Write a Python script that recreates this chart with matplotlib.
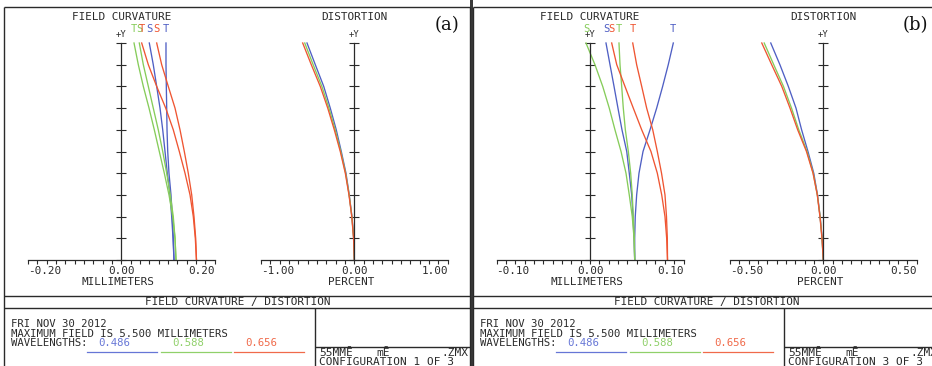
import matplotlib
matplotlib.use("Agg")
import matplotlib.pyplot as plt
import numpy as np

W, H, DPI = 932, 366, 100

# ---------------- data ----------------
field = [1.0, 0.9, 0.8, 0.7, 0.6, 0.5, 0.4, 0.3, 0.2, 0.1, 0.0]

# Panel (a) field curvature, millimeters
a_fc_blue_S = [0.0599, 0.0684, 0.0757, 0.0828, 0.0886, 0.0935, 0.0984, 0.1042, 0.1078, 0.1106, 0.1127]
a_fc_blue_T = [0.0956, 0.0956, 0.0963, 0.0971, 0.0978, 0.0993, 0.1020, 0.1063, 0.1091, 0.1112, 0.1127]
a_fc_green_S = [0.0385, 0.0471, 0.0578, 0.0684, 0.0791, 0.0886, 0.0971, 0.1048, 0.1112, 0.1149, 0.1170]
a_fc_green_T = [0.0272, 0.0364, 0.0471, 0.0593, 0.0706, 0.0813, 0.0920, 0.1020, 0.1099, 0.1149, 0.1170]
a_fc_red_S = [0.0757, 0.0864, 0.1005, 0.1149, 0.1256, 0.1348, 0.1433, 0.1506, 0.1555, 0.1591, 0.1608]
a_fc_red_T = [0.0436, 0.0578, 0.0757, 0.0950, 0.1112, 0.1241, 0.1363, 0.1470, 0.1540, 0.1583, 0.1608]

# Panel (a) distortion, percent
a_dist_blue = [-0.506, -0.417, -0.327, -0.257, -0.193, -0.139, -0.089, -0.054, -0.025, -0.006, 0.0]
a_dist_green = [-0.530, -0.440, -0.347, -0.271, -0.204, -0.145, -0.093, -0.055, -0.026, -0.007, 0.0]
a_dist_red = [-0.552, -0.460, -0.364, -0.284, -0.214, -0.150, -0.096, -0.057, -0.027, -0.008, 0.0]

# Panel (b) field curvature, millimeters
b_fc_blue_S = [0.0171, 0.0214, 0.0257, 0.0299, 0.0342, 0.0393, 0.0420, 0.0446, 0.0460, 0.0471, 0.0478]
b_fc_blue_T = [0.0891, 0.0837, 0.0777, 0.0713, 0.0642, 0.0567, 0.0524, 0.0499, 0.0484, 0.0478, 0.0478]
b_fc_green_S = [-0.0043, 0.0053, 0.0136, 0.0206, 0.0267, 0.0332, 0.0385, 0.0420, 0.0452, 0.0471, 0.0478]
b_fc_green_T = [0.0310, 0.0321, 0.0339, 0.0356, 0.0378, 0.0410, 0.0435, 0.0452, 0.0463, 0.0474, 0.0478]
b_fc_red_S = [0.0232, 0.0286, 0.0374, 0.0463, 0.0553, 0.0652, 0.0720, 0.0767, 0.0802, 0.0820, 0.0829]
b_fc_red_T = [0.0457, 0.0499, 0.0553, 0.0606, 0.0671, 0.0720, 0.0765, 0.0802, 0.0818, 0.0827, 0.0829]

# Panel (b) distortion, percent
b_dist_blue = [-0.281, -0.232, -0.187, -0.146, -0.116, -0.082, -0.051, -0.031, -0.017, -0.006, 0.0]
b_dist_green = [-0.316, -0.265, -0.213, -0.170, -0.131, -0.087, -0.054, -0.032, -0.017, -0.007, 0.0]
b_dist_red = [-0.329, -0.276, -0.222, -0.178, -0.137, -0.090, -0.055, -0.032, -0.018, -0.007, 0.0]

wavelengths = ["0.486", "0.588", "0.656"]
fc_scale = {"a": 0.20, "b": 0.10}
dist_scale = {"a": 1.00, "b": 0.50}
fc_ticklabels = {"a": ["-0.20", "0.00", "0.20"], "b": ["-0.10", "0.00", "0.10"]}
dist_ticklabels = {"a": ["-1.00", "0.00", "1.00"], "b": ["-0.50", "0.00", "0.50"]}
config_text = {"a": "CONFIGURATION 1 OF 3", "b": "CONFIGURATION 3 OF 3"}

# ---------------- style ----------------
BLUE, GREEN, RED = "#4f5fc4", "#86cc5a", "#ef5532"
TBLUE, TGREEN, TRED = "#6676d6", "#90d06a", "#f06a4a"
INK = "#2a2a2a"
plt.rcParams["font.family"] = ["DejaVu Sans Mono", "DejaVu Sans"]
FS = 7.9

fig = plt.figure(figsize=(W / DPI, H / DPI), dpi=DPI, facecolor="white")
cv = fig.add_axes([0, 0, 1, 1])
cv.set_xlim(0, W)
cv.set_ylim(H, 0)
cv.axis("off")

def txt(x, y, s, ha="center", size=FS, color=INK, **kw):
    cv.text(x, y, s, ha=ha, va="center", fontsize=size, color=color, **kw)

def hline(y, x0, x1, lw=1.0):
    cv.plot([x0, x1], [y, y], color=INK, lw=lw, solid_capstyle="butt")

def vline(x, y0, y1, lw=1.0):
    cv.plot([x, x], [y0, y1], color=INK, lw=lw, solid_capstyle="butt")

HALF = 93.5
Y_TOP, Y_BOT = 43.0, 260.0

def make_axes(cx, xmax):
    ax = fig.add_axes([(cx - HALF) / W, 1 - Y_BOT / H, 2 * HALF / W, (Y_BOT - Y_TOP) / H])
    ax.set_xlim(-xmax, xmax)
    ax.set_ylim(0, 1)
    ax.patch.set_alpha(0)
    ax.spines["top"].set_visible(False)
    ax.spines["right"].set_visible(False)
    ax.spines["left"].set_position(("data", 0))
    for s in ("left", "bottom"):
        ax.spines[s].set_color(INK)
        ax.spines[s].set_linewidth(0.9)
    ax.set_xticks(np.linspace(-xmax, xmax, 21))
    ax.set_xticklabels([])
    ax.set_yticks(np.linspace(0, 1, 11))
    ax.set_yticklabels([])
    ax.tick_params(axis="x", direction="out", length=3.0, width=0.8, color=INK)
    ax.tick_params(axis="y", direction="inout", length=7.5, width=0.8, color=INK)
    return ax, cx

def axis_texts(cx, labels, name, title):
    txt(cx - HALF, 270.7, labels[0], ha="left")
    txt(cx, 270.7, labels[1])
    txt(cx + HALF, 270.7, labels[2], ha="right")
    txt(cx - 3, 281.7, name)
    txt(cx, 16.5, title)
    txt(cx, 34.8, "+Y", size=6.4)

def panel(off, key, fc, dist):
    # frames
    x_left = 4.3 + off
    x_right = 469.5 + off
    hline(7.3, x_left, x_right)
    vline(x_left, 7.3, H + 2)
    vline(x_right, 7.3, H + 2)
    hline(296.3, x_left, x_right)
    hline(308.3, x_left, x_right)
    vline(315 + off, 308.3, H + 2)
    hline(347.0, 315 + off, x_right)
    txt(238 + off, 302.5, "FIELD CURVATURE / DISTORTION")
    txt(11 + off, 324.3, "FRI NOV 30 2012", ha="left", size=7.7)
    txt(11 + off, 333.6, "MAXIMUM FIELD IS 5.500 MILLIMETERS", ha="left", size=7.7)
    txt(11 + off, 342.9, "WAVELENGTHS:", ha="left", size=7.7)
    for i, (w, tc) in enumerate(zip(wavelengths, [TBLUE, TGREEN, TRED])):
        txt(98.3 + off + i * 73.5, 342.9, w, ha="left", color=tc, size=7.7)
        cv.plot([87 + off + i * 73.5, 157 + off + i * 73.5], [351.7, 351.7], color=tc, lw=0.9)
    CS = 8.0
    txt(319.3 + off, 353.0, "55MMĒ", ha="left", size=CS)
    txt(376.5 + off, 353.0, "mĒ", ha="left", size=CS)
    txt(468.3 + off, 353.0, ".ZMX", ha="right", size=CS)
    txt(319.3 + off, 362.0, config_text[key], ha="left", size=CS)
    cv.text(446.7 + off, 25, "(" + key + ")", ha="center", va="center",
            fontsize=13, family="DejaVu Serif", color="#111")

    # field curvature
    ax, cx = make_axes(121.3 + off if key == "a" else 590.0, fc_scale[key])
    curves = [(fc[0], BLUE, "S"), (fc[1], BLUE, "T"), (fc[2], GREEN, "S"),
              (fc[3], GREEN, "T"), (fc[4], RED, "S"), (fc[5], RED, "T")]
    for vals, col, lab in curves:
        ax.plot(vals, field, color=col, lw=0.95, clip_on=False)
    for vals, col, lab in curves:
        ax.text(vals[0], 1.0 + 13.7 / 217, lab, ha="center", va="center",
                fontsize=7.6, color=col, clip_on=False)
    axis_texts(cx, fc_ticklabels[key], "MILLIMETERS", "FIELD CURVATURE")

    # distortion
    ax2, cx2 = make_axes(354.3 + off if key == "a" else 823.3, dist_scale[key])
    for vals, col in zip(dist, [BLUE, GREEN, RED]):
        ax2.plot(vals, field, color=col, lw=0.95, clip_on=False)
    axis_texts(cx2, dist_ticklabels[key], "PERCENT", "DISTORTION")

panel(0, "a",
      [a_fc_blue_S, a_fc_blue_T, a_fc_green_S, a_fc_green_T, a_fc_red_S, a_fc_red_T],
      [a_dist_blue, a_dist_green, a_dist_red])
panel(469, "b",
      [b_fc_blue_S, b_fc_blue_T, b_fc_green_S, b_fc_green_T, b_fc_red_S, b_fc_red_T],
      [b_dist_blue, b_dist_green, b_dist_red])

# dark gap between the two panels
cv.fill_between([469.5, 472.5], [0, 0], [H, H], color="#3a3a3a", lw=0)

fig.savefig("out.png", dpi=DPI, facecolor="white")
